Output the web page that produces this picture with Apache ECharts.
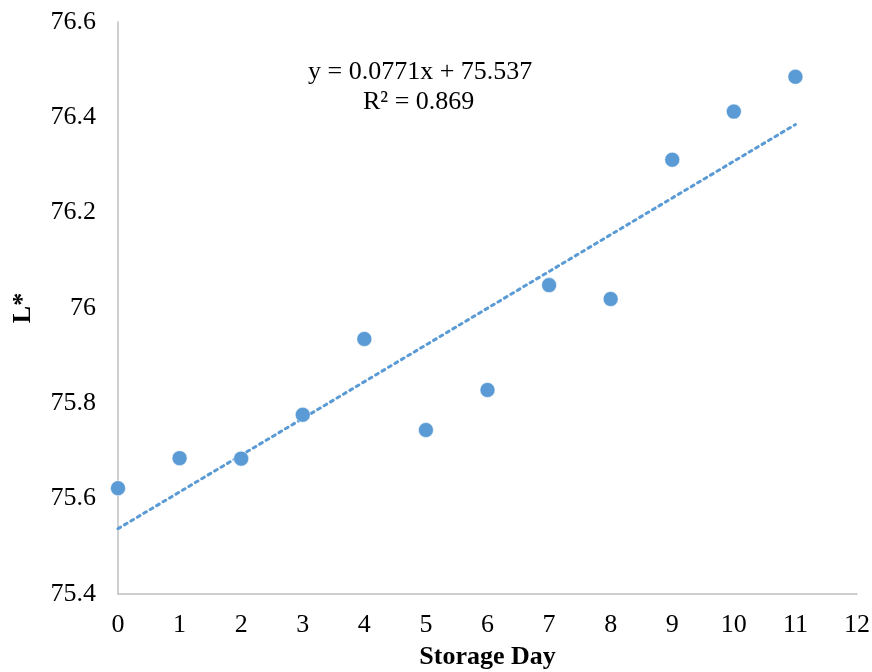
<!DOCTYPE html>
<html>
<head>
<meta charset="utf-8">
<script src="https://cdn.jsdelivr.net/npm/echarts@6/dist/echarts.min.js"></script>
<style>html,body{margin:0;padding:0;background:#fff;}#chart{width:872px;height:672px;}</style>
</head>
<body>
<div id="chart"></div>
<script>
const storageDays = [0, 1, 2, 3, 4, 5, 6, 7, 8, 9, 10, 11];
const lValues = [75.622, 75.685, 75.684, 75.776, 75.935, 75.744, 75.828, 76.048, 76.019, 76.311, 76.412, 76.485];
const trendX = [0, 11];
const trendY = [75.537, 76.385];
const xTicks = [0, 1, 2, 3, 4, 5, 6, 7, 8, 9, 10, 11, 12];
const yTicks = ['75.4', '75.6', '75.8', '76', '76.2', '76.4', '76.6'];
const equationText = 'y = 0.0771x + 75.537';
const r2Text = 'R² = 0.869';

const font = '"Liberation Serif", "Times New Roman", serif';
const chart = echarts.init(document.getElementById('chart'), null, {renderer: 'canvas'});
chart.setOption({
  animation: false,
  backgroundColor: '#fff',
  grid: {left: 118, right: 15, top: 22, bottom: 78, containLabel: false, outerBoundsMode: 'none'},
  xAxis: {
    type: 'value', min: 0, max: 12, interval: 1,
    name: 'Storage Day', nameLocation: 'middle', nameGap: 50,
    nameTextStyle: {fontFamily: font, fontWeight: 'bold', fontSize: 26, color: '#000'},
    axisLine: {show: true, onZero: false, lineStyle: {color: '#bfbfbf', width: 1.5}},
    axisTick: {show: false},
    splitLine: {show: false},
    axisLabel: {fontFamily: font, fontSize: 26, color: '#000', margin: 18,
      formatter: v => String(xTicks[Math.round(v)])}
  },
  yAxis: {
    type: 'value', min: 75.4, max: 76.6, interval: 0.2,
    name: 'L*', nameLocation: 'middle', nameGap: 82, nameRotate: 90,
    nameTextStyle: {fontFamily: font, fontWeight: 'bold', fontSize: 26, color: '#000'},
    axisLine: {show: true, onZero: false, lineStyle: {color: '#bfbfbf', width: 1.5}},
    axisTick: {show: false},
    splitLine: {show: false},
    axisLabel: {fontFamily: font, fontSize: 26, color: '#000', margin: 22,
      formatter: v => yTicks[Math.round((v - 75.4) / 0.2)]}
  },
  series: [
    {
      type: 'line',
      data: trendX.map((x, i) => [x, trendY[i]]),
      showSymbol: false, symbol: 'none',
      lineStyle: {color: '#5b9bd5', width: 3, type: [3, 4.5], cap: 'round'},
      silent: true, z: 2
    },
    {
      type: 'scatter',
      data: storageDays.map((d, i) => [d, lValues[i]]),
      symbol: 'circle', symbolSize: 15,
      itemStyle: {color: '#5b9bd5', opacity: 1, borderColor: '#fff', borderWidth: 0.5},
      z: 3
    }
  ],
  graphic: [
    {type: 'text', top: 59, left: 420 - 112, style: {text: equationText, font: '26px ' + font, fill: '#000'}},
    {type: 'text', top: 89, left: 420 - 57, style: {text: r2Text, font: '26px ' + font, fill: '#000'}}
  ]
});
</script>
</body>
</html>
